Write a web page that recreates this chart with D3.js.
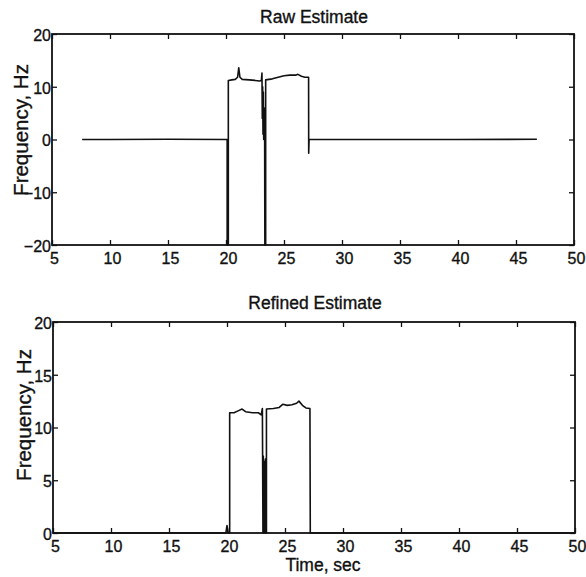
<!DOCTYPE html>
<html>
<head>
<meta charset="utf-8">
<script src="https://cdn.jsdelivr.net/npm/d3@7"></script>
<style>
  body { margin: 0; background: #fff; }
  text { font-family: "Liberation Sans", Arial, sans-serif; fill: #111; stroke: #111; stroke-width: 0.35px; }
</style>
</head>
<body>
<div id="chart"></div>
<script>
// ---- data ----
var xTicks = [5, 10, 15, 20, 25, 30, 35, 40, 45, 50];
var rawYTicks = [-20, -10, 0, 10, 20];
var refinedYTicks = [0, 5, 10, 15, 20];

var rawTime = [7.6, 10, 15, 20.1, 20.1, 20.2, 20.2, 20.5, 20.8, 21.0, 21.1, 21.2, 21.4, 22.0, 22.5, 22.9, 23.05,
  23.1, 23.13, 23.16, 23.19, 23.22, 23.25, 23.28, 23.31, 23.33, 23.35, 23.42, 23.42, 24.0, 24.5, 25.0, 25.5,
  26.0, 26.2, 26.5, 26.8, 27.12, 27.13, 27.16, 30, 35, 40, 46.8];
var rawFreq = [0, 0, 0.05, 0, -20, -20, 11.2, 11.3, 11.4, 11.8, 13.6, 11.8, 11.4, 11.3, 11.2, 11.1, 11.2,
  12.6, 4, 10, 1, 9, 0, 6, 0, 3, -20, -20, 11.3, 11.5, 11.8, 12.1, 12.2,
  12.2, 12.35, 12.0, 11.8, 11.8, -2.6, 0, 0, 0, 0, 0.05];

var refinedTime = [5, 19.9, 20.0, 20.1, 20.23, 20.23, 20.6, 21.0, 21.3, 21.6, 22.2, 22.7, 22.95, 23.05, 23.1,
  23.13, 23.16, 23.19, 23.22, 23.25, 23.28, 23.31, 23.35, 23.4, 23.4, 24.0, 24.5, 24.8, 25.2, 25.6, 26.0,
  26.2, 26.5, 26.8, 27.15, 27.18, 50];
var refinedFreq = [0, 0, 0.7, 0, 0, 11.4, 11.4, 11.6, 11.75, 11.5, 11.4, 11.4, 11.2, 11.8, 0,
  7.3, 2, 6.8, 0, 5, 0.5, 7, 0, 0, 11.75, 11.8, 11.9, 12.2, 12.1, 12.15, 12.3,
  12.5, 12.1, 11.85, 11.8, 0, 0];

var width = 586, height = 577;

var svg = d3.select("#chart")
  .append("svg")
  .attr("width", width)
  .attr("height", height);

function drawPanel(params) {
  var attrs = Object.assign(
    {
      left: 52,
      right: 574,
      top: 34,
      bottom: 245,
      yDomain: [-20, 20],
      yTicks: [],
      time: [],
      freq: [],
      title: "",
      titleY: 23,
      yLabelX: 28,
      yLabelY: 130,
      xLabel: null,
      xLabelY: 571,
    },
    params
  );

  var x = d3.scaleLinear().domain([5, 50]).range([attrs.left, attrs.right]);
  var y = d3.scaleLinear().domain(attrs.yDomain).range([attrs.bottom, attrs.top]);

  var g = svg.append("g");

  // frame
  g.append("rect")
    .attr("x", attrs.left)
    .attr("y", attrs.top)
    .attr("width", attrs.right - attrs.left)
    .attr("height", attrs.bottom - attrs.top)
    .attr("fill", "none")
    .attr("stroke", "#111")
    .attr("stroke-width", 1.8);

  // inward ticks on all four sides, labels only bottom / left
  var bottomAxis = g.append("g")
    .attr("transform", `translate(0,${attrs.bottom})`)
    .call(d3.axisBottom(x).tickValues(xTicks).tickSizeInner(-5).tickSizeOuter(0).tickPadding(8));
  bottomAxis.selectAll("text").attr("dx", 2);

  g.append("g")
    .attr("transform", `translate(0,${attrs.top})`)
    .call(d3.axisTop(x).tickValues(xTicks).tickSizeInner(-5).tickSizeOuter(0).tickFormat(""));

  var leftAxis = g.append("g")
    .attr("transform", `translate(${attrs.left},0)`)
    .call(d3.axisLeft(y).tickValues(attrs.yTicks).tickSizeInner(-5).tickSizeOuter(0).tickPadding(1));
  leftAxis.selectAll("text").attr("dy", "0.4em");

  g.append("g")
    .attr("transform", `translate(${attrs.right},0)`)
    .call(d3.axisRight(y).tickValues(attrs.yTicks).tickSizeInner(-5).tickSizeOuter(0).tickFormat(""));

  g.selectAll(".domain").remove();
  g.selectAll(".tick line").attr("stroke", "#111").attr("stroke-width", 1.3);
  g.selectAll(".tick text")
    .attr("font-size", "16px")
    .attr("font-family", "'Liberation Sans', Arial, sans-serif")
    .attr("fill", "#111");

  // data line
  var points = attrs.time.map((t, i) => [t, attrs.freq[i]]);
  var line = d3.line()
    .x((d) => x(d[0]))
    .y((d) => y(d[1]));

  g.append("path")
    .datum(points)
    .attr("d", line)
    .attr("fill", "none")
    .attr("stroke", "#111")
    .attr("stroke-width", 1.6)
    .attr("stroke-linejoin", "round");

  // titles
  g.append("text")
    .attr("x", (attrs.left + attrs.right) / 2 + 1)
    .attr("y", attrs.titleY)
    .attr("text-anchor", "middle")
    .attr("font-size", "17.5px")
    .text(attrs.title);

  g.append("text")
    .attr("transform", `translate(${attrs.yLabelX},${attrs.yLabelY}) rotate(-90)`)
    .attr("text-anchor", "middle")
    .attr("font-size", "20.5px")
    .text("Frequency, Hz");

  if (attrs.xLabel) {
    g.append("text")
      .attr("x", 323)
      .attr("y", attrs.xLabelY)
      .attr("text-anchor", "middle")
      .attr("font-size", "17.5px")
      .text(attrs.xLabel);
  }
}

drawPanel({
  left: 52,
  right: 574,
  top: 34,
  bottom: 245,
  yDomain: [-20, 20],
  yTicks: rawYTicks,
  time: rawTime,
  freq: rawFreq,
  title: "Raw Estimate",
  titleY: 23,
  yLabelX: 28,
  yLabelY: 130,
});

drawPanel({
  left: 53,
  right: 575,
  top: 322,
  bottom: 533,
  yDomain: [0, 20],
  yTicks: refinedYTicks,
  time: refinedTime,
  freq: refinedFreq,
  title: "Refined Estimate",
  titleY: 309,
  yLabelX: 31,
  yLabelY: 415,
  xLabel: "Time, sec",
  xLabelY: 571,
});
</script>
</body>
</html>
